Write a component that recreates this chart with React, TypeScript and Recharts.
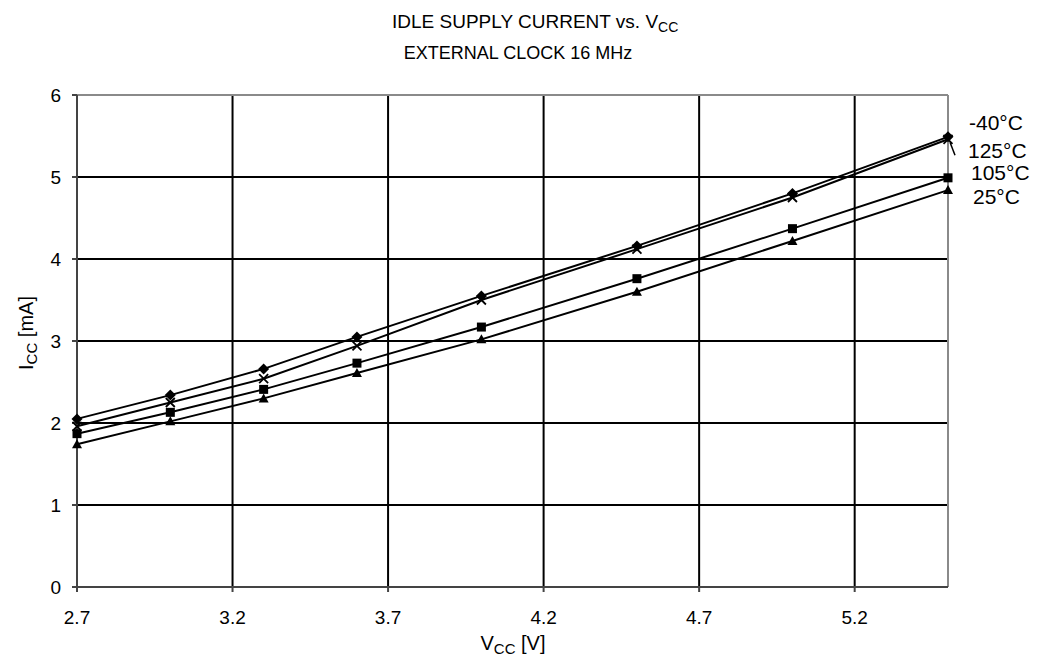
import React from "react";
import {
  LineChart,
  Line,
  XAxis,
  YAxis,
  CartesianGrid,
  ReferenceLine,
} from "recharts";

const voltages = [2.7, 3.0, 3.3, 3.6, 4.0, 4.5, 5.0, 5.5];
const iccMinus40 = [2.05, 2.34, 2.66, 3.05, 3.55, 4.16, 4.8, 5.49];
const icc125 = [1.96, 2.25, 2.54, 2.94, 3.5, 4.12, 4.75, 5.46];
const icc105 = [1.87, 2.13, 2.41, 2.73, 3.17, 3.76, 4.37, 4.99];
const icc25 = [1.74, 2.02, 2.3, 2.61, 3.02, 3.6, 4.22, 4.84];

const xTicks = [2.7, 3.2, 3.7, 4.2, 4.7, 5.2];
const yTicks = [0, 1, 2, 3, 4, 5, 6];

const seriesNames = ["-40°C", "125°C", "105°C", "25°C"];

const data = voltages.map((v, i) => ({
  v,
  m40: iccMinus40[i],
  t125: icc125[i],
  t105: icc105[i],
  t25: icc25[i],
}));

const FONT = "'Liberation Sans', Arial, sans-serif";

type Shape = "diamond" | "cross" | "square" | "triangle";

const makeDot = (shape: Shape) => (props: any) => {
  const { cx, cy, index } = props;
  if (cx == null || cy == null) return <g key={index} />;
  if (shape === "diamond") {
    return (
      <path
        key={index}
        d={`M${cx},${cy - 5.5} L${cx + 5.5},${cy} L${cx},${cy + 5.5} L${cx - 5.5},${cy} Z`}
        fill="#000"
      />
    );
  }
  if (shape === "square") {
    return <rect key={index} x={cx - 4.5} y={cy - 4.5} width={9} height={9} fill="#000" />;
  }
  if (shape === "triangle") {
    return (
      <path
        key={index}
        d={`M${cx},${cy - 5} L${cx + 5},${cy + 4} L${cx - 5},${cy + 4} Z`}
        fill="#000"
      />
    );
  }
  return (
    <path
      key={index}
      d={`M${cx - 4.5},${cy - 4.5} L${cx + 4.5},${cy + 4.5} M${cx + 4.5},${cy - 4.5} L${cx - 4.5},${cy + 4.5}`}
      stroke="#000"
      strokeWidth={1.8}
      fill="none"
    />
  );
};

const makeEndLabel = (name: string, dx: number, dy: number, leader: boolean) => (props: any) => {
  const { x, y, index } = props;
  if (index !== voltages.length - 1 || x == null || y == null) return <g key={index} />;
  return (
    <g key={index}>
      {leader && (
        <line x1={x + 2} y1={y + 3} x2={x + 7} y2={y + 16} stroke="#000" strokeWidth={1.5} />
      )}
      <text
        x={x + dx}
        y={y + dy}
        dy="0.36em"
        textAnchor="start"
        fontSize={21}
        fontFamily={FONT}
        fill="#000"
      >
        {name}
      </text>
    </g>
  );
};

export default function App() {
  return (
    <div style={{ position: "absolute", left: 0, top: 0, width: 1046, height: 664, background: "#fff" }}>
      <LineChart
        width={1046}
        height={664}
        data={data}
        margin={{ top: 95, right: 98, bottom: 0, left: 0 }}
      >
        <CartesianGrid stroke="#000" strokeWidth={2} />
        <XAxis
          dataKey="v"
          type="number"
          domain={[2.7, 5.5]}
          ticks={xTicks}
          height={77}
          tickSize={5}
          tickMargin={19}
          stroke="#444"
          strokeWidth={2}
          tick={{ fontSize: 19, fill: "#000", fontFamily: FONT }}
          tickFormatter={(v: number) => v.toFixed(1)}
        />
        <YAxis
          type="number"
          domain={[0, 6]}
          ticks={yTicks}
          width={77}
          tickSize={5}
          tickMargin={11}
          stroke="#444"
          strokeWidth={2}
          tick={{ fontSize: 19, fill: "#000", fontFamily: FONT }}
        />
        <ReferenceLine y={6} stroke="#8a8a8a" strokeWidth={2} />
        <ReferenceLine x={5.5} stroke="#8a8a8a" strokeWidth={2} />
        <Line
          dataKey="t25"
          stroke="#000"
          strokeWidth={2}
          isAnimationActive={false}
          dot={makeDot("triangle")}
          label={makeEndLabel(seriesNames[3], 25, 6, false)}
        />
        <Line
          dataKey="t105"
          stroke="#000"
          strokeWidth={2}
          isAnimationActive={false}
          dot={makeDot("square")}
          label={makeEndLabel(seriesNames[2], 23, -5, false)}
        />
        <Line
          dataKey="t125"
          stroke="#000"
          strokeWidth={2}
          isAnimationActive={false}
          dot={makeDot("cross")}
          label={makeEndLabel(seriesNames[1], 20, 11, true)}
        />
        <Line
          dataKey="m40"
          stroke="#000"
          strokeWidth={2}
          isAnimationActive={false}
          dot={makeDot("diamond")}
          label={makeEndLabel(seriesNames[0], 21, -14, false)}
        />
      </LineChart>
      <svg
        width={1046}
        height={664}
        style={{ position: "absolute", left: 0, top: 0, pointerEvents: "none" }}
      >
        <text x={392} y={28} textAnchor="start" fontSize={19} fontFamily={FONT} fill="#000">
          IDLE SUPPLY CURRENT vs. V<tspan fontSize={14} dy={4}>CC</tspan>
        </text>
        <text x={518} y={59} textAnchor="middle" fontSize={18} fontFamily={FONT} fill="#000">
          EXTERNAL CLOCK 16 MHz
        </text>
        <text x={513} y={650} textAnchor="middle" fontSize={20} fontFamily={FONT} fill="#000">
          V<tspan fontSize={15} dy={4}>CC</tspan>
          <tspan dy={-4}> [V]</tspan>
        </text>
        <text
          x={33}
          y={333}
          transform="rotate(-90 33 333)"
          textAnchor="middle"
          fontSize={20}
          fontFamily={FONT}
          fill="#000"
        >
          I<tspan fontSize={15} dy={4}>CC</tspan>
          <tspan dy={-4}> [mA]</tspan>
        </text>
      </svg>
    </div>
  );
}
